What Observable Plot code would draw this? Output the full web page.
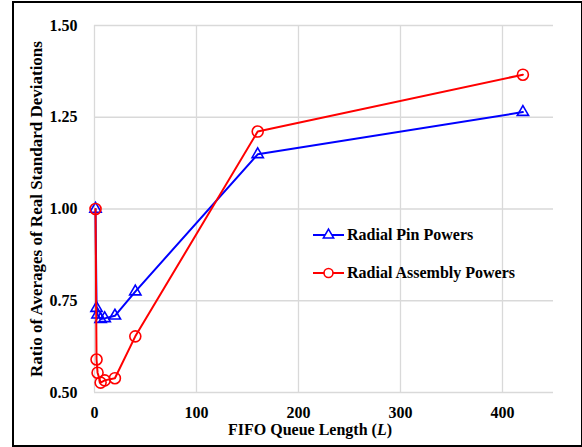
<!DOCTYPE html>
<html>
<head>
<meta charset="utf-8">
<script src="https://cdn.jsdelivr.net/npm/d3@7"></script>
<script src="https://cdn.jsdelivr.net/npm/@observablehq/plot@0.6"></script>
<style>
  html, body { margin: 0; padding: 0; background: #fff; }
  #wrap { position: relative; width: 582px; height: 447px; font-family: "Liberation Serif", "Times New Roman", serif; font-weight: bold; color: #000; }
  #frame { position: absolute; left: 12px; top: 1px; width: 567px; height: 442px; border: 2px solid #000; pointer-events: none; }
  #xtitle { position: absolute; left: 0; width: 620px; top: 421px; text-align: center; font-size: 16px; white-space: nowrap; }
  #ytitle { position: absolute; left: 37px; top: 209px; transform: translate(-50%, -50%) rotate(-90deg); font-size: 17px; white-space: nowrap; }
  #legend { position: absolute; left: 313px; top: 224px; font-size: 16px; }
  .row { display: flex; align-items: center; height: 22px; margin-bottom: 16px; }
  .row svg { margin-right: 3px; }
</style>
</head>
<body>
<div id="wrap">
  <div id="plot"></div>
  <div id="ytitle">Ratio of Averages of Real Standard Deviations</div>
  <div id="xtitle">FIFO Queue Length (<i>L</i>)</div>
  <div id="legend"></div>
  <div id="frame"></div>
</div>
<script>
const queueLength = [1, 2, 3, 6, 10, 20, 40, 160, 420];
const pinPowers = [1.00, 0.730, 0.712, 0.700, 0.702, 0.709, 0.775, 1.149, 1.264];
const assemblyPowers = [1.00, 0.590, 0.554, 0.527, 0.533, 0.539, 0.653, 1.211, 1.366];
const seriesNames = ["Radial Pin Powers", "Radial Assembly Powers"];
const xTicks = [0, 100, 200, 300, 400];
const yTicks = [0.50, 0.75, 1.00, 1.25, 1.50];

const pinData = queueLength.map((L, i) => ({L, v: pinPowers[i]}));
const asmData = queueLength.map((L, i) => ({L, v: assemblyPowers[i]}));

const blue = "#0000ff", red = "#ff0000", grid = "#d9d9d9";

const chart = Plot.plot({
  width: 582,
  height: 447,
  marginLeft: 94,
  marginRight: 29,
  marginTop: 25,
  marginBottom: 55,
  style: { fontFamily: "Liberation Serif, Times New Roman, serif", fontWeight: "bold", fontSize: "16px", background: "transparent", overflow: "visible" },
  x: { domain: [0, 450] },
  y: { domain: [0.5, 1.5] },
  marks: [
    Plot.ruleX(xTicks, { stroke: grid, strokeWidth: 1.3 }),
    Plot.ruleY(yTicks, { stroke: grid, strokeWidth: 1.3 }),
    Plot.axisX(xTicks, { tickSize: 0, tickPadding: 14, fontSize: 16, fontWeight: "bold", label: null, tickFormat: d3.format("d") }),
    Plot.axisY(yTicks, { tickSize: 0, tickPadding: 17, fontSize: 16, fontWeight: "bold", label: null, tickFormat: d3.format(".2f") }),
    Plot.line(pinData, { x: "L", y: "v", stroke: blue, strokeWidth: 2 }),
    Plot.dot(pinData, { x: "L", y: "v", symbol: "triangle", r: 4.2, stroke: blue, strokeWidth: 1.6, fill: "none" }),
    Plot.line(asmData, { x: "L", y: "v", stroke: red, strokeWidth: 2 }),
    Plot.dot(asmData, { x: "L", y: "v", symbol: "circle", r: 5.5, stroke: red, strokeWidth: 1.6, fill: "none" })
  ]
});
document.getElementById("plot").appendChild(chart);

// legend
const legend = d3.select("#legend");
const items = [
  { name: seriesNames[0], color: blue, sym: "triangle" },
  { name: seriesNames[1], color: red, sym: "circle" }
];
items.forEach(it => {
  const row = legend.append("div").attr("class", "row");
  const s = row.append("svg").attr("width", 31).attr("height", 16);
  s.append("line").attr("x1", 0).attr("x2", 31).attr("y1", 8).attr("y2", 8).attr("stroke", it.color).attr("stroke-width", 2);
  if (it.sym === "circle") {
    s.append("circle").attr("cx", 15.5).attr("cy", 8).attr("r", 4.5).attr("fill", "white").attr("stroke", it.color).attr("stroke-width", 1.6);
  } else {
    s.append("path").attr("transform", "translate(15.5,8)").attr("d", d3.symbol(d3.symbolTriangle, 45)()).attr("fill", "white").attr("stroke", it.color).attr("stroke-width", 1.6);
  }
  row.append("span").text(it.name);
});
</script>
</body>
</html>
